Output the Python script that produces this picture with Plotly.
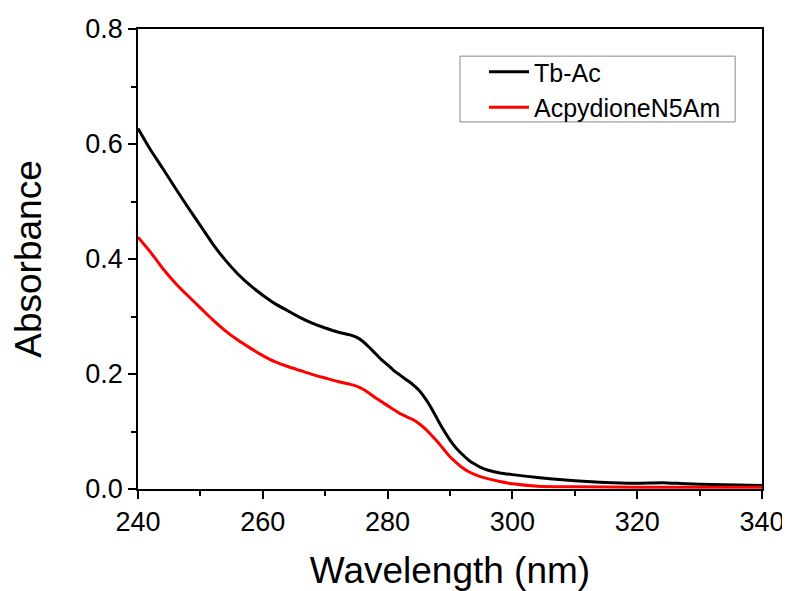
import plotly.graph_objects as go

wl_black = [240, 242, 244, 246, 248, 250, 252, 254, 256, 258, 260, 262, 264, 266, 268, 270,
            272, 274, 275, 276, 277, 278, 279, 280, 281, 282, 283, 284, 285, 286, 287, 288,
            289, 290, 291, 292, 293, 294, 295, 296, 298, 300,
            304, 308, 312, 316, 320, 324, 328, 332, 336, 340]
abs_black = [0.627, 0.590, 0.557, 0.523, 0.490, 0.458, 0.426, 0.398, 0.374, 0.354, 0.337,
             0.322, 0.310, 0.298, 0.288, 0.280, 0.273, 0.268, 0.264, 0.257, 0.247, 0.236,
             0.225, 0.216, 0.206, 0.198, 0.190, 0.182, 0.172, 0.158, 0.141, 0.121, 0.102,
             0.085, 0.071, 0.060, 0.050, 0.043, 0.037, 0.033, 0.028, 0.025,
             0.020, 0.016, 0.013, 0.011, 0.010, 0.011, 0.009, 0.008, 0.007, 0.006]

wl_red = [240, 242, 244, 246, 248, 250, 252, 254, 256, 258, 260, 262, 264, 266, 268, 270,
          272, 274, 275, 276, 277, 278, 279, 280, 281, 282, 283, 284, 285, 286, 287, 288,
          289, 290, 291, 292, 293, 294, 295, 296, 298, 300,
          304, 310, 320, 330, 340]
abs_red = [0.438, 0.412, 0.383, 0.358, 0.336, 0.315, 0.294, 0.275, 0.259, 0.245, 0.232,
           0.221, 0.213, 0.206, 0.199, 0.193, 0.187, 0.182, 0.179, 0.174, 0.167, 0.159,
           0.152, 0.145, 0.138, 0.131, 0.126, 0.121, 0.114, 0.105, 0.094, 0.082, 0.069,
           0.056, 0.046, 0.037, 0.030, 0.025, 0.021, 0.018, 0.013, 0.009,
           0.005, 0.004, 0.003, 0.003, 0.003]

series_names = ["Tb-Ac", "AcpydioneN5Am"]
x_ticks = [240, 260, 280, 300, 320, 340]
y_ticks = [0.0, 0.2, 0.4, 0.6, 0.8]

FONT = "Liberation Sans, Arial, sans-serif"

fig = go.Figure()
fig.add_trace(go.Scatter(x=wl_black, y=abs_black, mode="lines", name=series_names[0],
                         line=dict(color="black", width=3, shape="spline", smoothing=0.6)))
fig.add_trace(go.Scatter(x=wl_red, y=abs_red, mode="lines", name=series_names[1],
                         line=dict(color="#ff0000", width=3, shape="spline", smoothing=0.6)))

axis_common = dict(showline=True, linecolor="black", linewidth=1.5, mirror=True,
                   ticks="outside", ticklen=8, tickwidth=1.5, tickcolor="black",
                   showgrid=False, zeroline=False, automargin=False,
                   tickfont=dict(family=FONT, size=27, color="black"))

fig.update_xaxes(range=[240, 340], tickvals=x_ticks, ticktext=[str(v) for v in x_ticks],
                 minor=dict(dtick=10, ticks="outside", ticklen=5, tickwidth=1.5, tickcolor="black"),
                 title=dict(text="Wavelength (nm)", font=dict(family=FONT, size=37, color="black"),
                            standoff=22),
                 **axis_common)
fig.update_yaxes(range=[0, 0.8], tickvals=y_ticks, ticktext=[f"{v:.1f}" for v in y_ticks],
                 minor=dict(dtick=0.1, ticks="outside", ticklen=5, tickwidth=1.5, tickcolor="black"),
                 title=dict(text="Absorbance", font=dict(family=FONT, size=37, color="black"),
                            standoff=42),
                 **axis_common)

# legend frame
fig.add_shape(type="rect", xref="paper", yref="paper",
              x0=0.516, x1=0.957, y0=0.798, y1=0.941,
              line=dict(color="#888888", width=1), fillcolor="rgba(0,0,0,0)", layer="above")

fig.update_layout(
    width=782, height=583,
    margin=dict(l=130, r=28, t=21, b=102),
    paper_bgcolor="white", plot_bgcolor="white",
    font=dict(family=FONT, color="black"),
    legend=dict(x=0.5545, y=0.9565, xanchor="left", yanchor="top",
                bgcolor="rgba(0,0,0,0)", borderwidth=0,
                font=dict(family=FONT, size=25, color="black"),
                tracegroupgap=0, itemwidth=40),
)

fig.write_html("out.html")
